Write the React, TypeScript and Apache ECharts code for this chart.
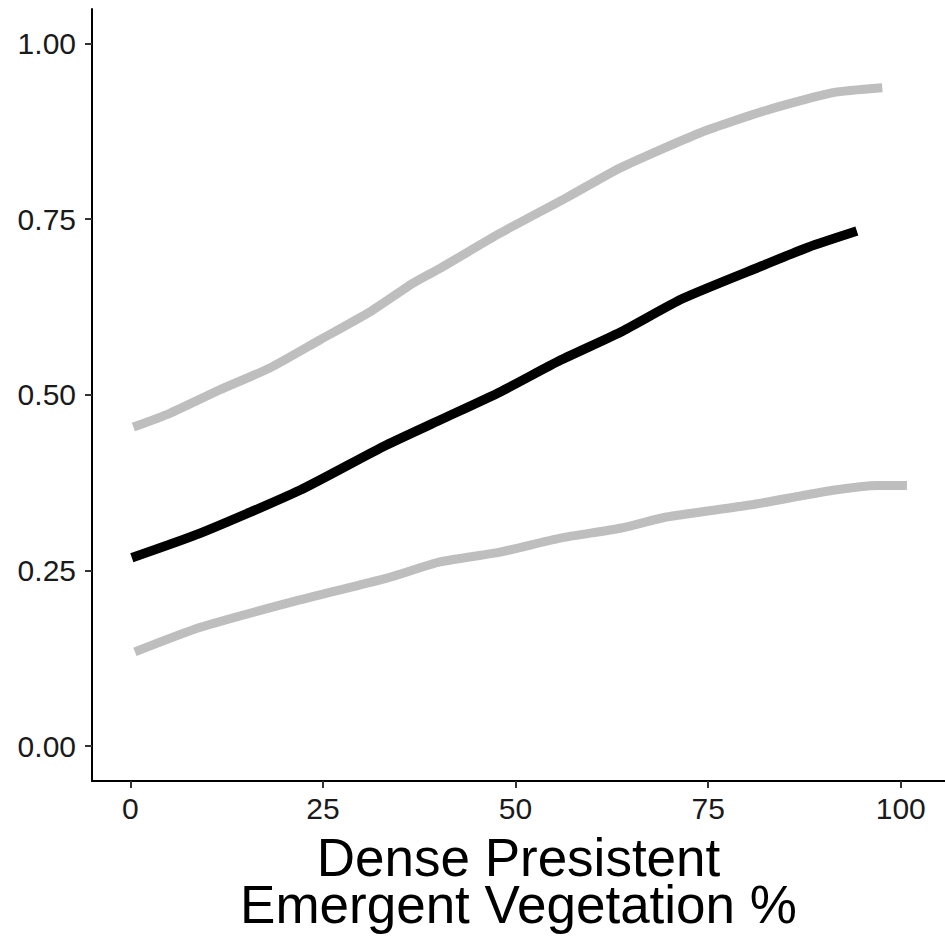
import React, { useEffect, useRef } from "react";
import * as echarts from "echarts";

const meanX = [0.2, 9.1, 22.0, 32.8, 40.2, 48.0, 55.8, 63.6, 71.7, 82.1, 88.0, 94.3];
const meanY = [0.268, 0.303, 0.364, 0.426, 0.464, 0.504, 0.549, 0.589, 0.637, 0.684, 0.710, 0.733];

const upperX = [0.4, 5.2, 11.6, 18.1, 24.6, 31.1, 36.7, 40.2, 48.0, 56.7, 63.6, 74.0, 82.6, 91.2, 97.6];
const upperY = [0.454, 0.474, 0.507, 0.538, 0.578, 0.618, 0.659, 0.680, 0.730, 0.781, 0.823, 0.873, 0.905, 0.930, 0.937];

const lowerX = [0.6, 9.1, 22.0, 33.3, 40.2, 48.0, 55.8, 63.6, 69.6, 80.4, 91.2, 97.0, 100.8];
const lowerY = [0.134, 0.169, 0.208, 0.239, 0.262, 0.276, 0.296, 0.310, 0.326, 0.343, 0.364, 0.371, 0.371];

const xTicks = [0, 25, 50, 75, 100];
const yTicks = [0, 0.25, 0.5, 0.75, 1.0];

const xTitle = "Dense Presistent\nEmergent Vegetation %";

const zip = (xs: number[], ys: number[]) => xs.map((x, i) => [x, ys[i]]);

export default function App() {
  const ref = useRef<HTMLDivElement>(null);
  useEffect(() => {
    document.body.style.margin = "0";
    const chart = echarts.init(ref.current!, null, { renderer: "svg" });
    const font = "'Liberation Sans', Arial, sans-serif";
    chart.setOption({
      animation: false,
      backgroundColor: "#ffffff",
      grid: { left: 92, right: 0, top: 9, bottom: 160, containLabel: false },
      xAxis: {
        type: "value",
        min: -4.97,
        max: 105.74,
        name: xTitle,
        nameLocation: "middle",
        nameGap: 53,
        nameTextStyle: { fontSize: 53, lineHeight: 47, color: "#000", fontFamily: font },
        axisLine: { show: true, onZero: false, lineStyle: { color: "#000", width: 2 } },
        axisTick: { show: true, length: 7, customValues: xTicks, lineStyle: { color: "#333", width: 2 } },
        axisLabel: { customValues: xTicks, fontSize: 30, color: "#1a1a1a", fontFamily: font, margin: 12 },
        splitLine: { show: false },
      },
      yAxis: {
        type: "value",
        min: -0.0498,
        max: 1.0491,
        axisLine: { show: true, onZero: false, lineStyle: { color: "#000", width: 2 } },
        axisTick: { show: true, length: 7, customValues: yTicks, lineStyle: { color: "#333", width: 2 } },
        axisLabel: {
          customValues: yTicks,
          fontSize: 30,
          color: "#1a1a1a",
          fontFamily: font,
          margin: 16,
          formatter: (v: number) => v.toFixed(2),
        },
        splitLine: { show: false },
      },
      series: [
        {
          type: "line",
          data: zip(upperX, upperY),
          showSymbol: false,
          smooth: 0.2,
          lineStyle: { color: "#BEBEBE", width: 9, cap: "butt", join: "round" },
        },
        {
          type: "line",
          data: zip(lowerX, lowerY),
          showSymbol: false,
          smooth: 0.2,
          lineStyle: { color: "#BEBEBE", width: 9, cap: "butt", join: "round" },
        },
        {
          type: "line",
          data: zip(meanX, meanY),
          showSymbol: false,
          smooth: 0.2,
          lineStyle: { color: "#000000", width: 9.5, cap: "butt", join: "round" },
        },
      ],
    });
    return () => chart.dispose();
  }, []);
  return <div ref={ref} style={{ position: "absolute", left: 0, top: 0, width: 945, height: 941 }} />;
}
